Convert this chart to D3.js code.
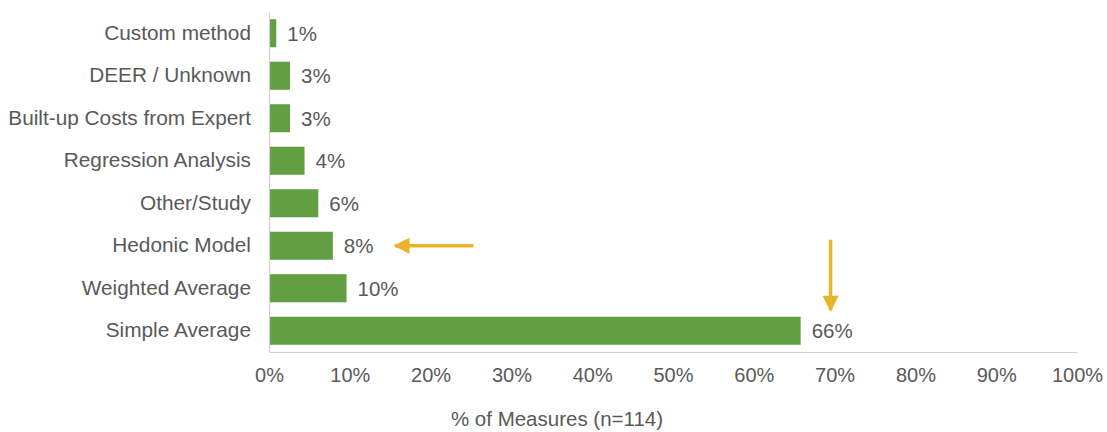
<!DOCTYPE html>
<html><head><meta charset="utf-8">
<script src="https://cdn.jsdelivr.net/npm/d3@7"></script>
<style>body{margin:0;background:#fff}svg{display:block}text{font-family:"Liberation Sans",Arial,sans-serif;fill:#595959}</style>
</head><body><svg id="c" width="1107" height="432"></svg>
<script>
const categories = ["Custom method","DEER / Unknown","Built-up Costs from Expert","Regression Analysis","Other/Study","Hedonic Model","Weighted Average","Simple Average"];
const values = [0.9, 2.6, 2.6, 4.4, 6.1, 7.9, 9.6, 65.8];
const valueLabels = ["1%","3%","3%","4%","6%","8%","10%","66%"];
const xTicks = [0,10,20,30,40,50,60,70,80,90,100];
const xTitle = "% of Measures (n=114)";

const svg = d3.select("#c");
const m = {left:269, right:1077, top:12, bottom:352};
const x = d3.scaleLinear().domain([0,100]).range([m.left, m.right]);
const y = d3.scaleBand().domain(categories).range([m.top, m.bottom]).paddingInner(0.34).paddingOuter(0.17);

// bars
svg.selectAll("rect.bar").data(values).join("rect")
  .attr("x", x(0)).attr("y",(d,i)=>y(categories[i]))
  .attr("width", d=>x(d)-x(0)).attr("height", y.bandwidth())
  .attr("fill","#629F43");

// value labels
svg.selectAll("text.val").data(values).join("text")
  .attr("x", d=>x(d)+11).attr("y",(d,i)=>y(categories[i])+y.bandwidth()/2)
  .attr("dy","0.36em").attr("font-size",20.5).text((d,i)=>valueLabels[i]);

// axes
const xa = svg.append("g").attr("transform",`translate(0,${m.bottom})`)
  .call(d3.axisBottom(x).tickValues(xTicks).tickFormat(d=>d+"%").tickSize(0).tickPadding(16));
xa.select(".domain").attr("stroke","#d0d0d0").attr("stroke-width",1.2);
xa.selectAll("text").attr("font-size",20).attr("fill","#595959").attr("font-family","Liberation Sans, Arial, sans-serif");

const ya = svg.append("g").attr("transform",`translate(${m.left},0)`)
  .call(d3.axisLeft(y).tickSize(0).tickPadding(18));
ya.select(".domain").attr("stroke","#d0d0d0").attr("stroke-width",1.2);
ya.selectAll("text").attr("font-size",20.8).attr("fill","#595959").attr("font-family","Liberation Sans, Arial, sans-serif");

svg.append("text").attr("x",557).attr("y",426).attr("text-anchor","middle").attr("font-size",20.5).text(xTitle);

// annotation arrows
const arrowColor = "#E8B52A";
const defs = svg.append("defs");
defs.append("marker").attr("id","ah").attr("viewBox","0 0 10 10").attr("refX",9).attr("refY",5)
  .attr("markerWidth",6).attr("markerHeight",4.6).attr("markerUnits","strokeWidth").attr("orient","auto")
  .append("path").attr("d","M0,0 L10,5 L0,10 Z").attr("fill",arrowColor);
const hy = y("Hedonic Model")+y.bandwidth()/2;
svg.append("line").attr("x1",x(25.3)).attr("x2",x(15.6)).attr("y1",hy).attr("y2",hy)
  .attr("stroke",arrowColor).attr("stroke-width",3.5).attr("marker-end","url(#ah)");
svg.append("line").attr("x1",x(69.5)).attr("x2",x(69.5)).attr("y1",y("Hedonic Model")+y.bandwidth()*0.5-6).attr("y2",y("Weighted Average")+y.bandwidth()+8)
  .attr("stroke",arrowColor).attr("stroke-width",3.5).attr("marker-end","url(#ah)");
</script></body></html>
